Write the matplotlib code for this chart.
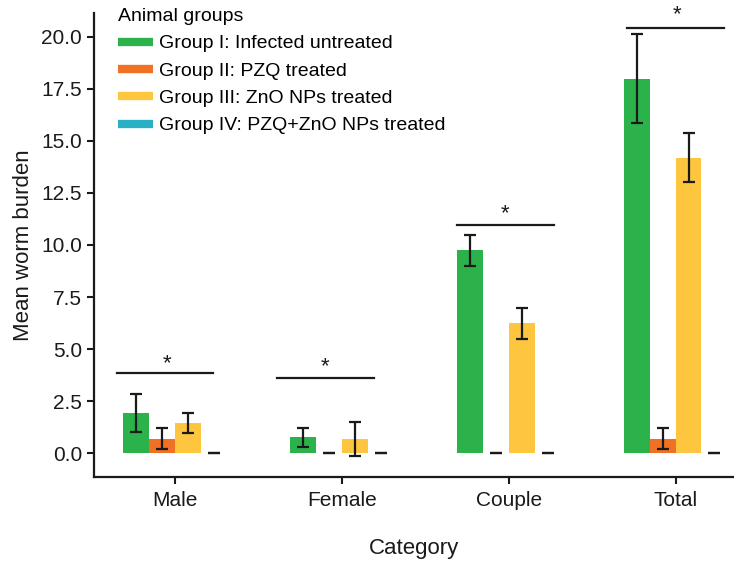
import numpy as np
import matplotlib
matplotlib.use("Agg")
import matplotlib.pyplot as plt
from matplotlib.lines import Line2D

plt.rcParams['font.family'] = ['Liberation Sans', 'DejaVu Sans']

categories = ["Male", "Female", "Couple", "Total"]
group_names = ["Group I: Infected untreated", "Group II: PZQ treated",
               "Group III: ZnO NPs treated", "Group IV: PZQ+ZnO NPs treated"]
colors = ["#2cb24b", "#f07024", "#fec53e", "#2ab0c4"]

g1_mean = [1.92, 0.75, 9.75, 18.0]
g1_err = [0.90, 0.45, 0.75, 2.15]
g2_mean = [0.7, 0.0, 0.0, 0.7]
g2_err = [0.5, 0.0, 0.0, 0.5]
g3_mean = [1.44, 0.67, 6.23, 14.2]
g3_err = [0.48, 0.81, 0.75, 1.17]
g4_mean = [0.0, 0.0, 0.0, 0.0]
g4_err = [0.0, 0.0, 0.0, 0.0]

# significance bars: start, end (relative to category), height, star height
sig_x0 = [-0.35, -0.39, -0.31, -0.29]
sig_x1 = [0.23, 0.19, 0.27, 0.29]
sig_y = [3.85, 3.6, 10.96, 20.45]
star_dx = [-0.05, -0.10, -0.02, 0.01]
star_y = [4.3, 4.16, 11.5, 21.05]

means = [g1_mean, g2_mean, g3_mean, g4_mean]
errs = [g1_err, g2_err, g3_err, g4_err]

fig = plt.figure(figsize=(7.34, 5.64), dpi=100)
ax = fig.add_axes([94 / 734, 1 - 477 / 564, 1 - 94 / 734, (477 - 13) / 564])

x = np.arange(len(categories))
w = 0.155
for i in range(4):
    ax.bar(x + (i - 1.5) * w, means[i], w, color=colors[i], yerr=errs[i],
           capsize=4.5, error_kw=dict(elinewidth=1.6, capthick=1.6, ecolor="#1a1a1a"))

for j in range(len(categories)):
    ax.plot([x[j] + sig_x0[j], x[j] + sig_x1[j]], [sig_y[j], sig_y[j]], color="#1a1a1a", lw=1.6)
    ax.text(x[j] + star_dx[j], star_y[j], "*", ha="center", va="center", fontsize=16, color="#1a1a1a")

ax.set_xlim(-0.486, 3.35)
ax.set_ylim(-1.15, 21.15)
ax.set_yticks(np.arange(0, 20.1, 2.5))
ax.set_yticklabels(["%.1f" % v for v in np.arange(0, 20.1, 2.5)])
ax.set_xticks(x)
ax.set_xticklabels(categories)
ax.tick_params(axis="both", labelsize=15, width=1.5, length=5, color="#1a1a1a", labelcolor="#1a1a1a")
ax.tick_params(axis="x", pad=5)
for s in ["top", "right"]:
    ax.spines[s].set_visible(False)
for s in ["left", "bottom"]:
    ax.spines[s].set_linewidth(1.6)
    ax.spines[s].set_color("#1a1a1a")

ax.set_ylabel("Mean worm burden", fontsize=16, color="#1a1a1a", labelpad=5)
ax.set_xlabel("Category", fontsize=16, color="#1a1a1a", labelpad=20)

handles = [Line2D([0], [0], color=c, lw=6, solid_capstyle="butt") for c in colors]
leg = ax.legend(handles, group_names, title="Animal groups", loc="upper left",
                bbox_to_anchor=(118 / 734, 1 - 8 / 564), bbox_transform=fig.transFigure,
                frameon=False, fontsize=14, title_fontsize=14, handlelength=1.8,
                handletextpad=0.3, labelspacing=0.5, borderpad=0, borderaxespad=0,
                alignment="left")

fig.savefig("out.png", dpi=100)
